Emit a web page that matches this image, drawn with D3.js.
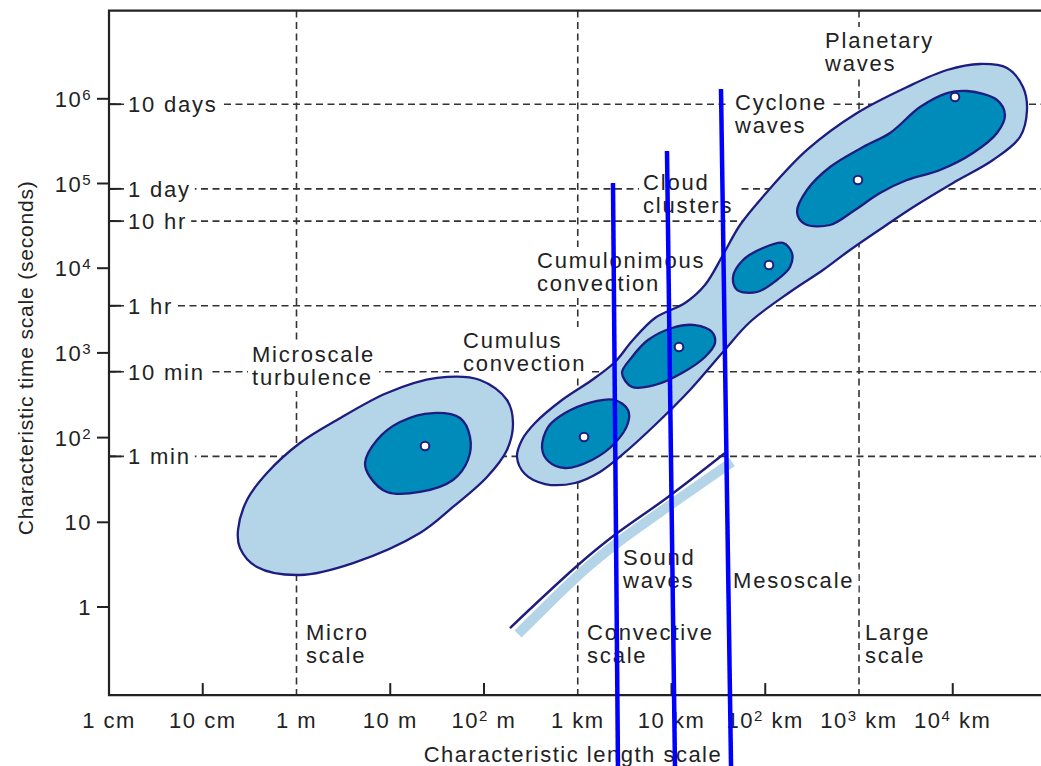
<!DOCTYPE html>
<html><head><meta charset="utf-8">
<script src="https://cdn.jsdelivr.net/npm/d3@7"></script>
<style>
body{margin:0;background:#fff;}
svg{display:block;}
text{font-family:"Liberation Sans",Arial,Helvetica,sans-serif;fill:#222;}
</style></head><body>
<svg id="c" width="1041" height="766"></svg>
<script>
// ---------------- data ----------------
// length ticks (metres)
const lengthTicks = [
  {v:0.01, base:"1",  exp:"",  unit:" cm"},
  {v:0.1,  base:"10", exp:"",  unit:" cm"},
  {v:1,    base:"1",  exp:"",  unit:" m"},
  {v:10,   base:"10", exp:"",  unit:" m"},
  {v:100,  base:"10", exp:"2", unit:" m"},
  {v:1e3,  base:"1",  exp:"",  unit:" km"},
  {v:1e4,  base:"10", exp:"",  unit:" km"},
  {v:1e5,  base:"10", exp:"2", unit:" km"},
  {v:1e6,  base:"10", exp:"3", unit:" km"},
  {v:1e7,  base:"10", exp:"4", unit:" km"}
];
const lengthGrid = [1, 1e3, 1e6];            // Micro / Convective / Large scale boundaries
// time ticks (seconds)
const timeTicks = [
  {v:1, base:"1", exp:""}, {v:10, base:"10", exp:""}, {v:100, base:"10", exp:"2"},
  {v:1e3, base:"10", exp:"3"}, {v:1e4, base:"10", exp:"4"}, {v:1e5, base:"10", exp:"5"},
  {v:1e6, base:"10", exp:"6"}
];
const timeMarks = [
  {v:60, label:"1 min"}, {v:600, label:"10 min"}, {v:3600, label:"1 hr"},
  {v:36000, label:"10 hr"}, {v:86400, label:"1 day"}, {v:864000, label:"10 days"}
];
// outlines as [log10 length (m), log10 time (s)]
const microOuter = [[-0.624,0.909],[-0.528,1.263],[-0.315,1.582],[0.037,1.936],[0.432,2.208],[0.965,2.527],
  [1.499,2.704],[1.957,2.680],[2.245,2.444],[2.309,2.172],[2.245,1.854],[2.032,1.535],[1.669,1.181],
  [1.317,0.874],[0.603,0.519],[0.037,0.378],[-0.421,0.472],[-0.603,0.697]];
const microCore = [[0.731,1.700],[0.859,1.972],[1.104,2.184],[1.456,2.290],[1.744,2.231],[1.851,2.007],
  [1.829,1.736],[1.669,1.499],[1.317,1.358],[0.965,1.358],[0.784,1.535]];
const bigOuter = [[2.352,1.771],[2.405,1.972],[2.544,2.172],[2.832,2.444],[3.152,2.680],[3.397,2.893],
  [3.579,3.140],[3.824,3.412],[4.144,3.589],[4.357,3.802],[4.549,4.156],[4.731,4.510],[5.019,4.900],
  [5.445,5.396],[5.979,5.832],[6.512,6.139],[6.939,6.340],[7.291,6.411],[7.579,6.364],[7.749,6.139],
  [7.792,5.868],[7.717,5.549],[7.429,5.277],[7.003,5.006],[6.597,4.734],[6.277,4.498],[5.904,4.215],
  [5.616,3.979],[5.264,3.719],[4.837,3.365],[4.549,3.011],[4.197,2.562],[3.824,2.149],[3.472,1.795],
  [3.237,1.594],[2.971,1.464],[2.651,1.452],[2.437,1.570]];
const cumulusCore = [[2.619,1.877],[2.683,2.125],[2.864,2.290],[3.152,2.420],[3.397,2.444],[3.536,2.326],
  [3.536,2.172],[3.397,1.936],[3.152,1.736],[2.864,1.641],[2.683,1.724]];
const cbCore = [[3.472,2.763],[3.579,2.952],[3.749,3.152],[4.005,3.294],[4.251,3.329],[4.432,3.247],
  [4.464,3.117],[4.357,2.952],[4.112,2.763],[3.824,2.621],[3.579,2.597]];
const clusterCore = [[4.656,3.896],[4.763,4.097],[4.976,4.238],[5.189,4.298],[5.285,4.179],[5.264,4.014],
  [5.125,3.861],[4.912,3.719],[4.699,3.743]];
const synopticCore = [[5.339,4.663],[5.445,4.923],[5.691,5.195],[6.043,5.431],[6.331,5.596],[6.651,5.903],
  [6.939,6.068],[7.152,6.092],[7.472,5.986],[7.557,5.809],[7.472,5.596],[7.216,5.360],[6.864,5.159],
  [6.512,5.041],[6.224,4.888],[5.957,4.687],[5.691,4.510],[5.424,4.522]];
const centres = [[1.371,1.901],[3.067,2.007],[4.080,3.070],[5.040,4.038],[5.989,5.041],[7.024,6.021]];
const soundLine = [[2.277,-0.248],[3.003,0.496],[3.365,0.826],[3.963,1.299],[4.571,1.818]];
const soundBand = [[2.363,-0.319],[3.056,0.425],[3.419,0.756],[4.016,1.228],[4.645,1.712]];
// overlay blue markers [[logL,logT],[logL,logT]]
const markers = [
  [[3.376,5.006],[3.429,-1.877]],
  [[3.952,5.384],[4.037,-1.877]],
  [[4.528,6.116],[4.635,-1.877]]
];
// annotation texts, anchored at [logL, logT] of first baseline
const notes = [
  {lines:["Microscale","turbulence"], at:[-0.475,2.893]},
  {lines:["Cumulus","convection"], at:[1.776,3.058]},
  {lines:["Cumulonimous","convection"], at:[2.565,4.002]},
  {lines:["Cloud","clusters"], at:[3.696,4.923]},
  {lines:["Cyclone","waves"], at:[4.677,5.868]},
  {lines:["Planetary","waves"], at:[5.637,6.600]},
  {lines:["Sound","waves"], at:[3.483,0.496]},
  {lines:["Mesoscale"], at:[4.656,0.224]},
  {lines:["Convective","scale"], at:[3.099,-0.390]},
  {lines:["Micro","scale"], at:[0.101,-0.390]},
  {lines:["Large","scale"], at:[6.064,-0.390]}
];
const xTitle = "Characteristic length scale";
const yTitle = "Characteristic time scale (seconds)";

// ---------------- drawing ----------------
const W = 1041, H = 766;
const svg = d3.select("#c");
const x = d3.scaleLog().domain([0.01, 1e8]).range([109, 109 + 93.75 * 10]);
const y = d3.scaleLog().domain([1, 1e6]).range([607, 607 - 84.7 * 6]);
const tMin = 0.0912, tMax = 1.1e7;
const X = l => x(Math.pow(10, l)), Y = l => y(Math.pow(10, l));
const x0 = x(0.01), xEnd = x.range()[1], yTop = y(tMax), yBot = y(tMin);

const NAVY = "#1f1c80", LIGHT = "#b4d5e8", DARK = "#008cba", INK = "#222";

const gGrid = svg.append("g"), gBg = svg.append("g"), gShapes = svg.append("g"),
      gText = svg.append("g"), gAxis = svg.append("g"), gOver = svg.append("g");

// grid dashed lines
gGrid.selectAll("line.h").data(timeMarks).join("line").attr("class","h")
  .attr("x1", x0).attr("x2", xEnd).attr("y1", d => y(d.v)).attr("y2", d => y(d.v))
  .attr("stroke", "#333").attr("stroke-width", 1.6).attr("stroke-dasharray", "7,4.5");
gGrid.selectAll("line.v").data(lengthGrid).join("line").attr("class","v")
  .attr("y1", yTop).attr("y2", yBot).attr("x1", d => x(d)).attr("x2", d => x(d))
  .attr("stroke", "#333").attr("stroke-width", 1.6).attr("stroke-dasharray", "7,4.5");

function withBg(textSel, padX, padY) {
  textSel.each(function () {
    const b = this.getBBox();
    gBg.append("rect").attr("x", b.x - padX).attr("y", b.y - padY)
      .attr("width", b.width + 2 * padX).attr("height", b.height + 2 * padY).attr("fill", "#fff");
  });
}

// blobs
const closed = d3.line().x(d => X(d[0])).y(d => Y(d[1])).curve(d3.curveCatmullRomClosed.alpha(0.5));
const open = d3.line().x(d => X(d[0])).y(d => Y(d[1])).curve(d3.curveCatmullRom.alpha(0.5));
const shapes = [
  {pts: microOuter, fill: LIGHT}, {pts: bigOuter, fill: LIGHT},
  {pts: microCore, fill: DARK}, {pts: cumulusCore, fill: DARK}, {pts: cbCore, fill: DARK},
  {pts: clusterCore, fill: DARK}, {pts: synopticCore, fill: DARK}
];
gShapes.selectAll("path.blob").data(shapes).join("path").attr("class","blob")
  .attr("d", d => closed(d.pts)).attr("fill", d => d.fill)
  .attr("stroke", NAVY).attr("stroke-width", 2.3).attr("stroke-linejoin","round");
gShapes.selectAll("circle").data(centres).join("circle")
  .attr("cx", d => X(d[0])).attr("cy", d => Y(d[1])).attr("r", 4.3)
  .attr("fill", "#fff").attr("stroke", NAVY).attr("stroke-width", 2);
gShapes.append("path").attr("d", open(soundBand)).attr("fill","none")
  .attr("stroke", LIGHT).attr("stroke-width", 10);
gShapes.append("path").attr("d", open(soundLine)).attr("fill","none")
  .attr("stroke", NAVY).attr("stroke-width", 2.4);

// annotations
notes.forEach(n => {
  const t = gText.append("text").attr("x", X(n.at[0])).attr("y", Y(n.at[1]))
    .style("font-size","22px").style("letter-spacing","1.8px");
  n.lines.forEach((s, i) => t.append("tspan").attr("x", X(n.at[0])).attr("dy", i ? 23 : 0).text(s));
  withBg(t, 4, 1);
});

// axes frame
gAxis.append("path").attr("d", `M${xEnd},${yTop}H${x0}V${yBot}H${xEnd}`)
  .attr("fill","none").attr("stroke", INK).attr("stroke-width", 2.2);

// left outer ticks with labels
gAxis.selectAll("line.yt").data(timeTicks).join("line").attr("class","yt")
  .attr("x1", x0 - 12).attr("x2", x0).attr("y1", d => y(d.v)).attr("y2", d => y(d.v))
  .attr("stroke", INK).attr("stroke-width", 2);
gAxis.selectAll("text.yl").data(timeTicks).join("text").attr("class","yl")
  .attr("x", x0 - 17).attr("y", d => y(d.v) + 8).attr("text-anchor","end")
  .style("font-size","22px").style("letter-spacing","1.5px")
  .each(function (d) {
    const t = d3.select(this);
    t.append("tspan").text(d.base);
    if (d.exp) t.append("tspan").attr("dy", -7).style("font-size","15px").text(d.exp);
  });

// inner time ticks with labels
gAxis.selectAll("line.tm").data(timeMarks).join("line").attr("class","tm")
  .attr("x1", x0).attr("x2", x0 + 12).attr("y1", d => y(d.v)).attr("y2", d => y(d.v))
  .attr("stroke", INK).attr("stroke-width", 2);
const tml = gText.selectAll("text.tml").data(timeMarks).join("text").attr("class","tml")
  .attr("x", x0 + 19).attr("y", d => y(d.v) + 8)
  .style("font-size","22px").style("letter-spacing","1.8px").text(d => d.label);
withBg(tml, 4, 1);

// bottom inward ticks (not where dashed grid lines are)
gAxis.selectAll("line.xt").data(lengthTicks.filter(d => d.v > 0.01 && !lengthGrid.includes(d.v)))
  .join("line").attr("class","xt")
  .attr("x1", d => x(d.v)).attr("x2", d => x(d.v)).attr("y1", yBot).attr("y2", yBot - 12)
  .attr("stroke", INK).attr("stroke-width", 2);
gAxis.selectAll("text.xl").data(lengthTicks).join("text").attr("class","xl")
  .attr("x", d => x(d.v)).attr("y", yBot + 33).attr("text-anchor","middle")
  .style("font-size","22px").style("letter-spacing","1.5px")
  .each(function (d) {
    const t = d3.select(this);
    t.append("tspan").text(d.base);
    if (d.exp) {
      t.append("tspan").attr("dy", -7).style("font-size","15px").text(d.exp);
      t.append("tspan").attr("dy", 7).text(d.unit);
    } else t.append("tspan").text(d.unit);
  });

// axis titles
gAxis.append("text").attr("x", 573).attr("y", yBot + 67).attr("text-anchor","middle")
  .style("font-size","22px").style("letter-spacing","1.5px").text(xTitle);
gAxis.append("text").attr("transform", `translate(33,${(yTop + yBot) / 2 + 5}) rotate(-90)`)
  .attr("text-anchor","middle").style("font-size","21px").style("letter-spacing","0.8px").text(yTitle);

// overlay blue markers
gOver.selectAll("line").data(markers).join("line")
  .attr("x1", d => X(d[0][0])).attr("y1", d => Y(d[0][1]))
  .attr("x2", d => X(d[1][0])).attr("y2", d => Y(d[1][1]))
  .attr("stroke", "#0000ff").attr("stroke-width", 4.5);
</script>
</body></html>
